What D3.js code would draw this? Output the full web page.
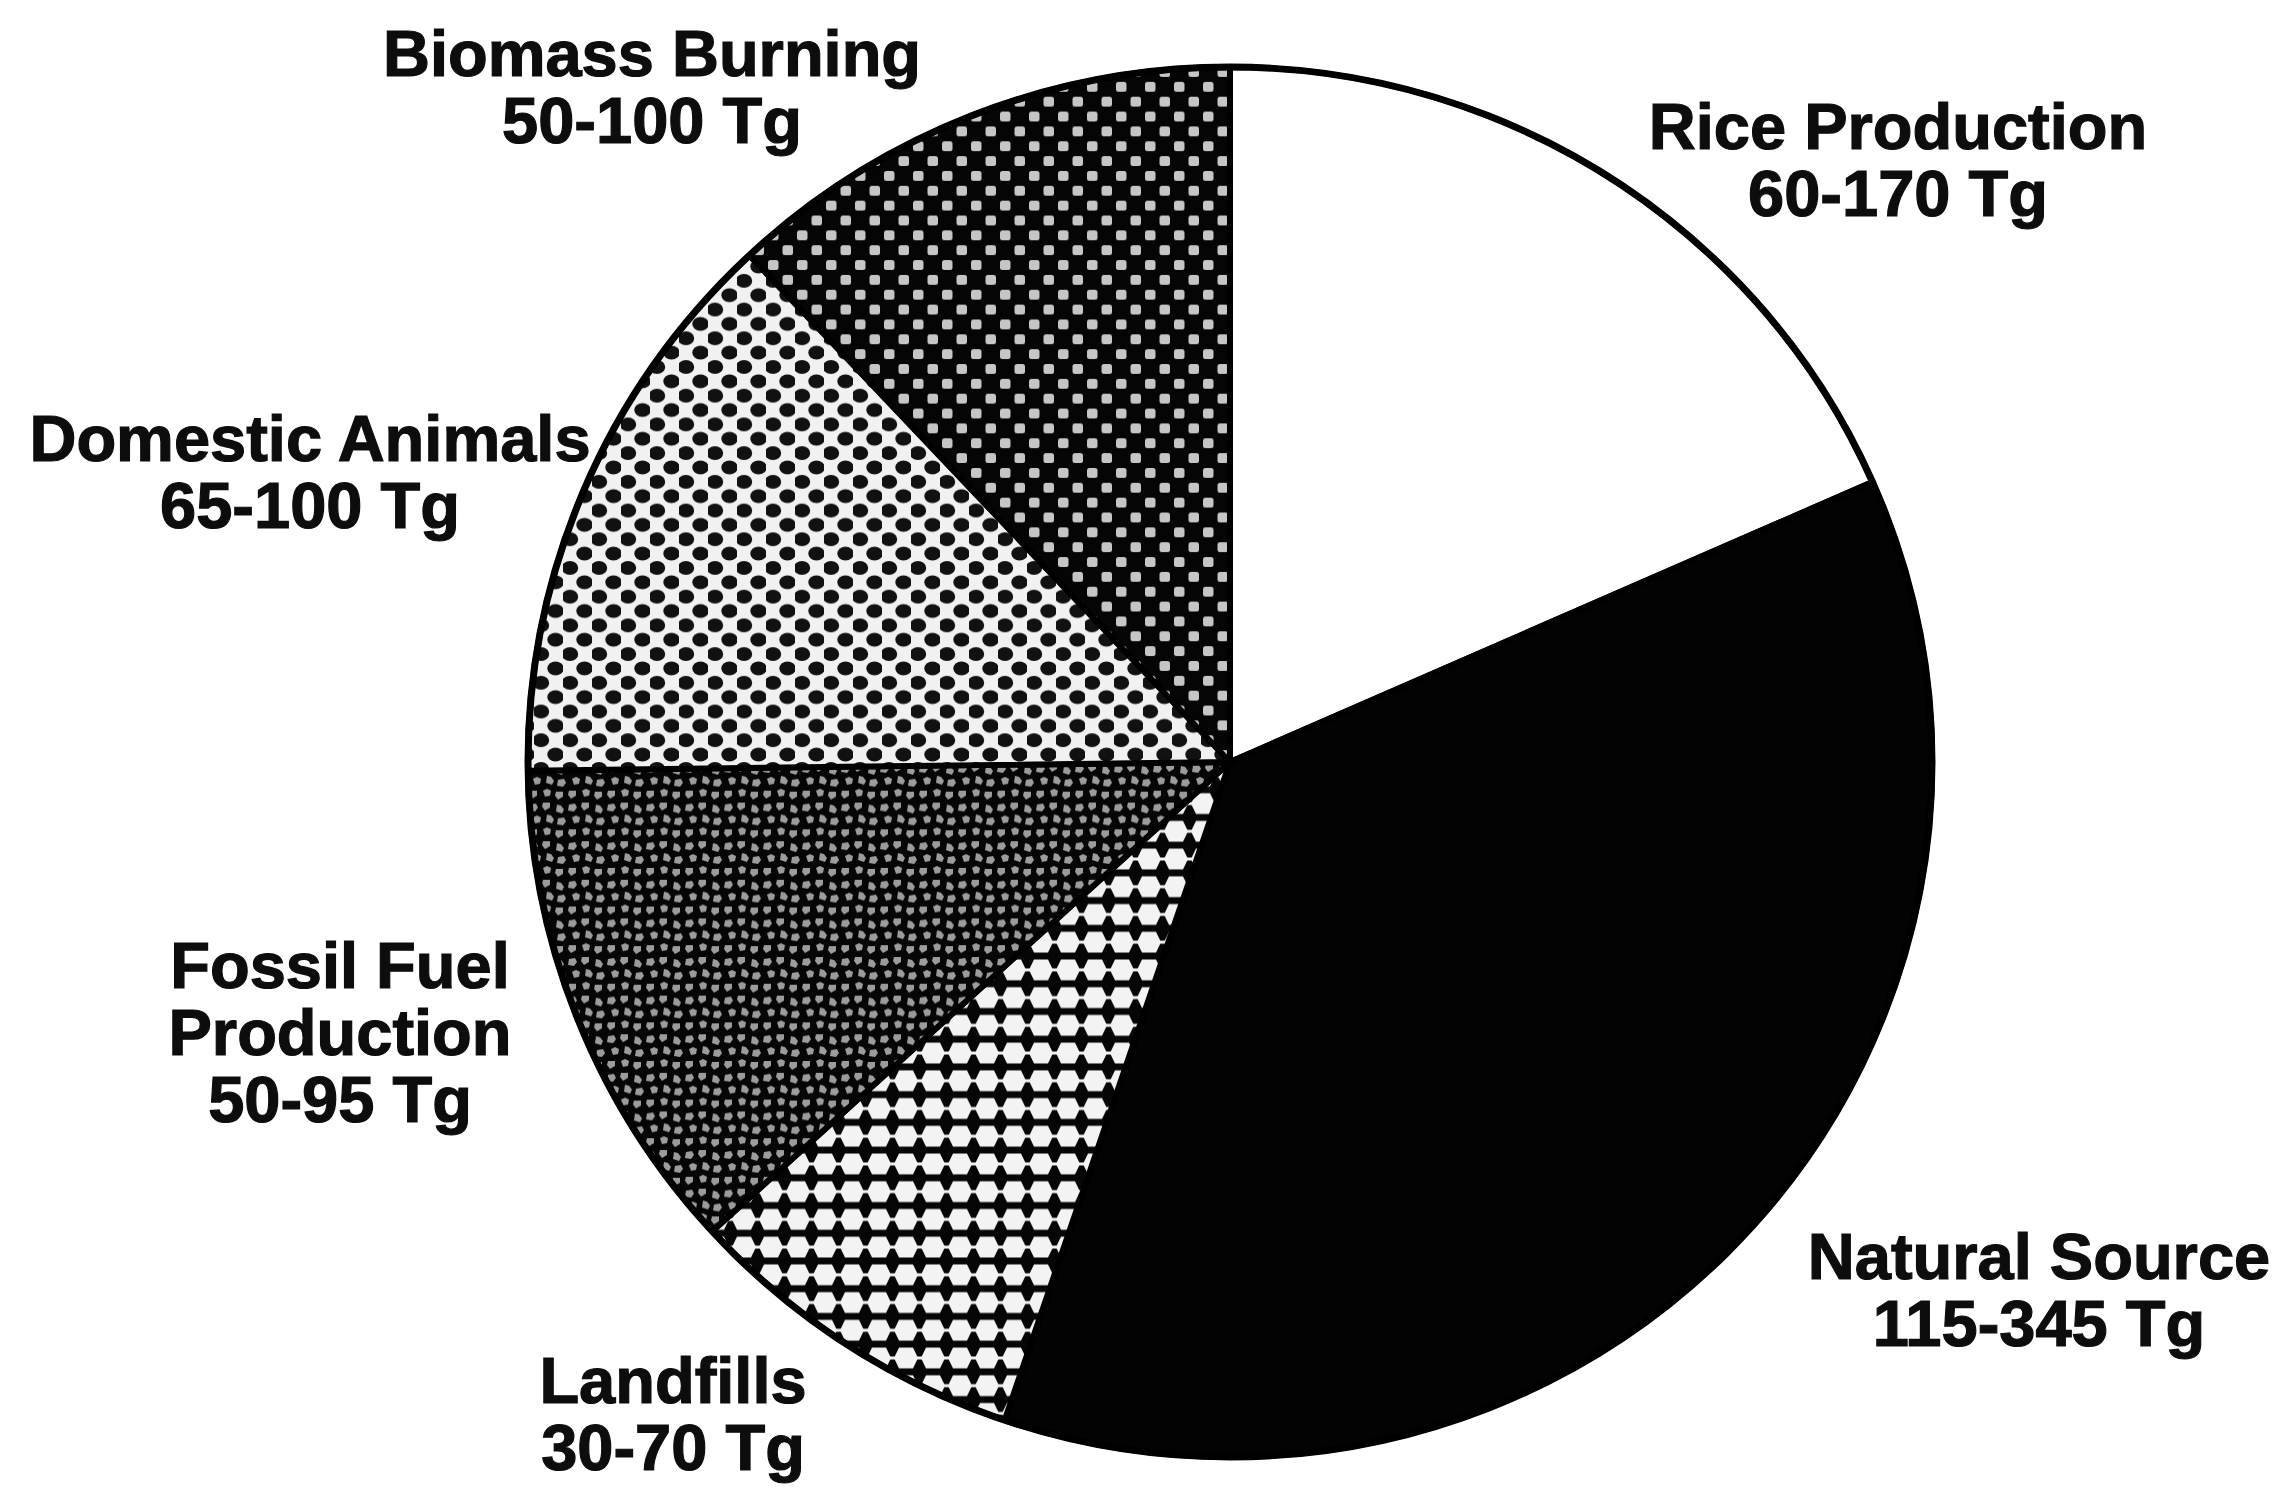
<!DOCTYPE html>
<html>
<head>
<meta charset="utf-8">
<script src="https://cdn.jsdelivr.net/npm/d3@7"></script>
<style>
  html, body { margin: 0; padding: 0; background: #ffffff; }
  svg { display: block; }
</style>
</head>
<body>
<svg id="chart" width="2286" height="1501"></svg>
<script>
// Global methane (CH4) sources, annual emission ranges in Tg
const sources = ["Rice Production", "Natural Source", "Landfills",
                 "Fossil Fuel Production", "Domestic Animals", "Biomass Burning"];
const lowTg  = [60, 115, 30, 50, 65, 50];
const highTg = [170, 345, 70, 95, 100, 100];
const unit = "Tg";

// label text split into lines as printed
const labelLines = [
  ["Rice Production"],
  ["Natural Source"],
  ["Landfills"],
  ["Fossil Fuel", "Production"],
  ["Domestic Animals"],
  ["Biomass Burning"]
];

// each slice is sized by the midpoint of its range
const rows = sources.map((s, i) => ({
  name: s, low: lowTg[i], high: highTg[i],
  mid: (lowTg[i] + highTg[i]) / 2, lines: labelLines[i]
}));

// ---- layout ----
const W = 2286, H = 1501;
const cx = 1230, cy = 762, R = 702, squash = 0.99;
const fontSize = 65, lineGap = 67;
// label anchor: centre x and first baseline y for each source
const labelAnchor = {
  "Rice Production":        [1898, 149],
  "Natural Source":         [2039, 1279],
  "Landfills":              [673, 1403],
  "Fossil Fuel Production": [340, 988],
  "Domestic Animals":       [310, 461],
  "Biomass Burning":        [652, 76]
};

const svg = d3.select("#chart");
svg.append("rect").attr("width", W).attr("height", H).attr("fill", "#ffffff");

// ---- fill textures ----
const defs = svg.append("defs");
function tile(id, w, h, bg) {
  const p = defs.append("pattern")
    .attr("id", id)
    .attr("patternUnits", "userSpaceOnUse")
    .attr("width", w).attr("height", h);
  p.append("rect").attr("width", w).attr("height", h).attr("fill", bg);
  return p;
}

// coarse light-grey squares on black
const pBio = tile("tex-biomass", 29, 30, "#050505");
[[2, 3], [16.5, 18]].forEach(([x, y]) =>
  pBio.append("rect").attr("x", x).attr("y", y).attr("width", 10.5).attr("height", 10)
    .attr("rx", 2.5).attr("fill", "#c6c6c6"));

// black dots on white
const pDom = tile("tex-domestic", 29, 29, "#f1f1f1");
[[7, 7], [21.5, 21.5]].forEach(([x, y]) =>
  pDom.append("ellipse").attr("cx", x).attr("cy", y).attr("rx", 8.2).attr("ry", 7)
    .attr("fill", "#111111"));

// mottled grey flecks on black
const pFos = tile("tex-fossil", 39, 39, "#060606");
const fleck = [
  "M0,0 L6,-1 L8,3 L5,7 L-1,6 Z",
  "M0,0 L7,0 L7,5 L2,8 L-1,4 Z",
  "M1,-1 L5,0 L8,4 L6,8 L0,6 Z",
  "M0,1 L4,-1 L8,1 L7,6 L2,7 Z"
];
[[2, 4, 0], [15, 2, 1], [28, 5, 2],
 [5, 16, 3], [18, 15, 2], [30, 18, 0],
 [2, 29, 1], [15, 28, 3], [28, 30, 1]].forEach(([x, y, k]) =>
  pFos.append("path").attr("d", fleck[k]).attr("transform", `translate(${x},${y})`)
    .attr("fill", "#9c9c9c"));

// interlocking black / white lozenges
const pLand = tile("tex-landfill", 27, 28, "#060606");
pLand.append("rect").attr("x", 0).attr("y", 12.5).attr("width", 27).attr("height", 3).attr("fill", "#f3f3f3");
const lozenge = "M-12,0 L-7,-10.5 L7,-10.5 L12,0 L7,10.5 L-7,10.5 Z";
[[0, 14], [27, 14]].forEach(([x, y]) =>
  pLand.append("path").attr("d", lozenge).attr("transform", `translate(${x},${y})`)
    .attr("fill", "#f3f3f3"));

const fillFor = {
  "Rice Production": "#ffffff",
  "Natural Source": "#030303",
  "Landfills": "url(#tex-landfill)",
  "Fossil Fuel Production": "url(#tex-fossil)",
  "Domestic Animals": "url(#tex-domestic)",
  "Biomass Burning": "url(#tex-biomass)"
};

// ---- pie ----
const pie = d3.pie().sort(null).value(d => d.mid);
const arc = d3.arc().innerRadius(0).outerRadius(R);

const g = svg.append("g").attr("transform", `translate(${cx},${cy}) scale(1,${squash})`);
g.selectAll("path.slice")
  .data(pie(rows))
  .join("path")
  .attr("class", "slice")
  .attr("d", arc)
  .attr("fill", d => fillFor[d.data.name])
  .attr("stroke", "#000")
  .attr("stroke-width", 6)
  .attr("stroke-linejoin", "round");

g.append("circle").attr("r", R).attr("fill", "none")
  .attr("stroke", "#000").attr("stroke-width", 7);

// ---- labels ----
const lab = svg.append("g")
  .attr("font-family", "'Liberation Sans', Arial, Helvetica, sans-serif")
  .attr("font-weight", "bold")
  .attr("font-size", fontSize)
  .attr("fill", "#0d0d0d")
  .attr("stroke", "#0d0d0d")
  .attr("stroke-width", 1.2)
  .attr("text-anchor", "middle");

rows.forEach(d => {
  const [x, y] = labelAnchor[d.name];
  const all = d.lines.concat([`${d.low}-${d.high} ${unit}`]);
  all.forEach((s, j) =>
    lab.append("text").attr("x", x).attr("y", y + j * lineGap).text(s));
});
</script>
</body>
</html>
